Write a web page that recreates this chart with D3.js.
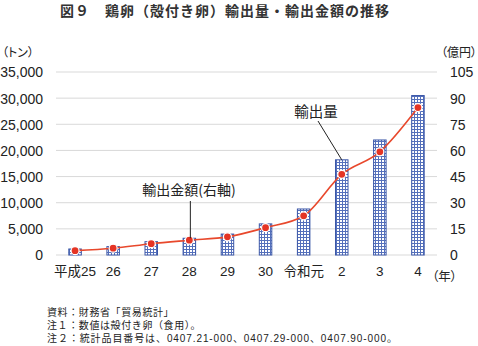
<!DOCTYPE html>
<html><head><meta charset="utf-8">
<script src="https://cdn.jsdelivr.net/npm/d3@7"></script>
<style>
body{margin:0;background:#fff;}
text{font-family:"Noto Sans CJK JP",sans-serif;fill:#222;}
.num{font-family:"Liberation Sans","Noto Sans CJK JP",sans-serif;}
.palt{font-feature-settings:"palt";}
</style></head>
<body><svg id="c" width="478" height="346"></svg>
<script>
const categories = ["平成25","26","27","28","29","30","令和元","2","3","4"];
const volumeTons = [1150,1600,2550,3200,4000,5950,8800,18200,22000,30500];
const valueOkuYen = [2.5,3.9,6.5,8.5,10.4,15.7,22.5,46.3,59.2,84.6];
const leftTicks = [0,5000,10000,15000,20000,25000,30000,35000];
const rightTicks = [0,15,30,45,60,75,90,105];
const footnotes = ["資料：財務省「貿易統計」","注１：数値は殻付き卵（食用）。","注２：統計品目番号は、0407.21-000、0407.29-000、0407.90-000。"];

const svg = d3.select("#c");
const L = 56, R = 437, T = 72, B = 255;
const x = d3.scaleBand().domain(categories).range([L,R]).paddingInner(0).paddingOuter(0);
const yL = d3.scaleLinear().domain([0,35000]).range([B,T]);
const yR = d3.scaleLinear().domain([0,105]).range([B,T]);

// pattern
const defs = svg.append("defs");
const pat = defs.append("pattern").attr("id","grid").attr("patternUnits","userSpaceOnUse")
  .attr("width",3).attr("height",3);
pat.append("rect").attr("width",3).attr("height",3).attr("fill","#fff");
pat.append("rect").attr("x",0).attr("y",0).attr("width",1).attr("height",3).attr("fill","#5570bb");
pat.append("rect").attr("x",0).attr("y",0).attr("width",3).attr("height",1).attr("fill","#5570bb");

// title
svg.append("text").attr("x",225).attr("y",16).attr("text-anchor","middle")
  .style("font-size","14px").style("font-weight","bold").style("letter-spacing","1px").style("fill","#333")
  .text("図９　鶏卵（殻付き卵）輸出量・輸出金額の推移");

// grid
svg.append("g").selectAll("line").data(leftTicks).join("line")
  .attr("x1",L).attr("x2",R).attr("y1",d=>yL(d)).attr("y2",d=>yL(d))
  .attr("stroke","#d9d9d9").attr("stroke-width",1);

// left axis
const axL = svg.append("g").attr("transform",`translate(${L},0)`)
  .call(d3.axisLeft(yL).tickValues(leftTicks).tickFormat(d3.format(",")).tickSize(0).tickPadding(13));
axL.select(".domain").remove();
axL.selectAll("text").attr("class","num").style("font-size","14px").style("fill","#222").attr("dy","0.35em");

// right axis
const axR = svg.append("g").attr("transform",`translate(${R},0)`)
  .call(d3.axisRight(yR).tickValues(rightTicks).tickSize(0).tickPadding(13));
axR.select(".domain").remove();
axR.selectAll("text").attr("class","num").style("font-size","14px").style("fill","#222").attr("dy","0.35em");

// x axis
const axX = svg.append("g").attr("transform",`translate(0,${B})`)
  .call(d3.axisBottom(x).tickSize(0).tickPadding(11));
axX.select(".domain").remove();
axX.selectAll("text").attr("class","num").style("font-size","13.5px").style("fill","#222");

// units
svg.append("text").attr("class","palt").attr("x",2).attr("y",57).style("font-size","12px").text("（トン）");
svg.append("text").attr("class","palt").attr("x",477).attr("y",57).attr("text-anchor","end").style("font-size","12px").text("（億円）");
svg.append("text").attr("class","palt").attr("x",432).attr("y",281).style("font-size","12.5px").text("（年）");

// bars
const bw = 12.5;
svg.append("g").selectAll("rect").data(categories).join("rect")
  .attr("x",(d)=>x(d)+x.bandwidth()/2-bw/2)
  .attr("y",(d,i)=>yL(volumeTons[i]))
  .attr("width",bw)
  .attr("height",(d,i)=>B-yL(volumeTons[i]))
  .attr("fill","url(#grid)").attr("stroke","#3b57a8").attr("stroke-width",1);

// line
const pts = categories.map((c,i)=>[x(c)+x.bandwidth()/2, yR(valueOkuYen[i])]);
svg.append("path").datum(pts).attr("d",d3.line().curve(d3.curveMonotoneX))
  .attr("fill","none").attr("stroke","#e8482c").attr("stroke-width",1.6);
svg.append("g").selectAll("circle").data(pts).join("circle")
  .attr("cx",d=>d[0]).attr("cy",d=>d[1]).attr("r",4)
  .attr("fill","#e53424").attr("stroke","#fff").attr("stroke-width",1.2);

// annotations
const c28 = x("28")+x.bandwidth()/2;
svg.append("line").attr("x1",c28+1).attr("y1",201).attr("x2",c28+1).attr("y2",yL(volumeTons[3]))
  .attr("stroke","#222").attr("stroke-width",1);
svg.append("text").attr("x",189).attr("y",195).attr("text-anchor","middle")
  .style("font-size","14px").text("輸出金額(右軸)");
const c2 = x("2")+x.bandwidth()/2;
svg.append("line").attr("x1",318).attr("y1",121).attr("x2",c2).attr("y2",yL(volumeTons[7]))
  .attr("stroke","#222").attr("stroke-width",1);
svg.append("text").attr("x",316).attr("y",117).attr("text-anchor","middle")
  .style("font-size","14.5px").text("輸出量");

// footnotes
svg.append("g").selectAll("text").data(footnotes).join("text")
  .attr("class","num")
  .attr("x",47).attr("y",(d,i)=>316+i*13)
  .style("font-size","10px").style("fill","#222")
  .style("letter-spacing",(d,i)=>i===2?"0.9px":"0.6px").text(d=>d);
</script></body></html>
